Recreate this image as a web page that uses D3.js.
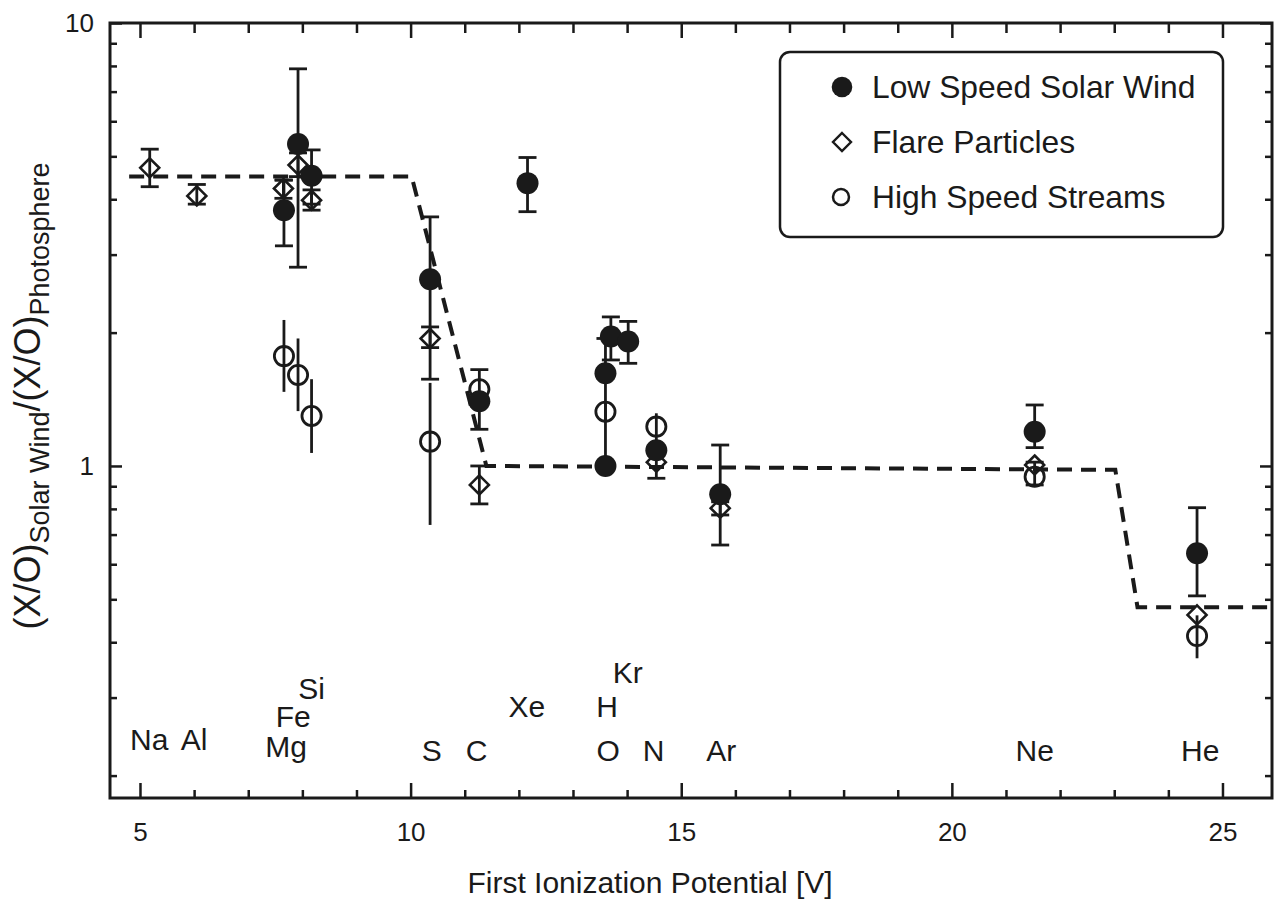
<!DOCTYPE html>
<html>
<head>
<meta charset="utf-8">
<script src="https://cdn.jsdelivr.net/npm/d3@7"></script>
<style>
  body { margin: 0; background: #fff; }
  svg text { font-family: "Liberation Sans", Arial, Helvetica, sans-serif; fill: #1a1a1a; }
</style>
</head>
<body>
<svg id="chart" width="1275" height="902"></svg>
<script>
// ---- Abundance ratios (X/O)_SW / (X/O)_photosphere versus first ionization potential [V] ----

// Low speed solar wind (filled circles)
const lowSpeedFip   = [7.66, 7.92, 8.17, 10.36, 11.27, 12.16, 13.60, 13.60, 13.70, 14.02, 14.54, 15.72, 21.53, 24.53];
const lowSpeedRatio = [3.78, 5.33, 4.52, 2.64, 1.40, 4.35, 1.62, 1.00, 1.96, 1.91, 1.085, 0.863, 1.195, 0.635];
const lowSpeedLow   = [3.14, 2.81, 3.90, 1.57, 1.21, 3.75, 1.00, null, 1.735, 1.705, null, 0.663, 1.10, 0.509];
const lowSpeedHigh  = [4.42, 7.88, 5.17, 3.65, 1.65, 4.97, 1.94, null, 2.17, 2.12, null, 1.115, 1.373, 0.805];

// Flare particles (open diamonds)
const flareFip   = [5.18, 6.05, 7.65, 7.92, 8.17, 10.36, 11.27, 14.54, 15.72, 21.53, 24.53];
const flareRatio = [4.71, 4.07, 4.23, 4.78, 3.98, 1.94, 0.906, 1.02, 0.803, 1.005, 0.461];
const flareLow   = [4.27, 3.90, 4.02, 4.50, 3.78, 1.85, 0.821, 0.938, 0.775, 0.906, null];
const flareHigh  = [5.19, 4.32, 4.42, 5.09, 4.20, 2.06, 1.00, 1.10, 0.83, 1.02, null];

// High speed streams (open circles)
const highSpeedFip   = [7.66, 7.92, 8.17, 10.36, 11.27, 13.60, 14.54, 21.53, 24.53];
const highSpeedRatio = [1.77, 1.605, 1.297, 1.135, 1.49, 1.326, 1.227, 0.946, 0.413];
const highSpeedLow   = [1.47, 1.33, 1.07, 0.736, null, 1.265, 1.12, null, 0.368];
const highSpeedHigh  = [2.136, 1.94, 1.57, 1.54, null, 1.40, 1.315, null, 0.46];

// Step model of the FIP effect (dashed)
const modelFip   = [4.8, 10.02, 11.4, 23.02, 23.43, 25.9];
const modelRatio = [4.5, 4.5, 1.0, 0.98, 0.48, 0.48];

// Element names placed at their FIP
const elementNames = ["Na", "Al", "Mg", "Fe", "Si", "S", "C", "Xe", "H", "Kr", "O", "N", "Ar", "Ne", "He"];
const elementFip   = [5.17, 6.0, 7.7, 7.83, 8.17, 10.39, 11.22, 12.15, 13.63, 14.01, 13.65, 14.49, 15.74, 21.53, 24.59];
const elementLevel = [0.2286, 0.2286, 0.2204, 0.2575, 0.2979, 0.2158, 0.2158, 0.2713, 0.2713, 0.3237, 0.2158, 0.2158, 0.2158, 0.2158, 0.2158];

// Axis ticks
const xMajorTicks = [5, 10, 15, 20, 25];
const xMinorTicks = d3.range(6, 25).filter(v => v % 5 !== 0);
const yMajorTicks = [1, 10];
const yMinorTicks = [0.2, 0.3, 0.4, 0.5, 0.6, 0.7, 0.8, 0.9, 2, 3, 4, 5, 6, 7, 8, 9];
const yTickLabels = ["1", "10"];

const legendLabels = ["Low Speed Solar Wind", "Flare Particles", "High Speed Streams"];
const xTitle = "First Ionization Potential [V]";

// ---- Layout ----
const plot = { left: 110, right: 1272, top: 23, bottom: 798 };
const ink = "#1a1a1a";
const font = "'Liberation Sans', Arial, Helvetica, sans-serif";

const svg = d3.select("#chart");

const x = d3.scaleLinear().domain([4.446, 25.915]).range([plot.left, plot.right]);
const y = d3.scaleLog().domain([0.178, 10]).range([plot.bottom, plot.top]);

svg.append("defs").append("clipPath").attr("id", "plotClip")
  .append("rect")
  .attr("x", plot.left).attr("y", plot.top)
  .attr("width", plot.right - plot.left).attr("height", plot.bottom - plot.top);

// ---- Axes (ticks on all four sides, pointing inward) ----
function styleAxis(g, fontSize) {
  g.select(".domain").remove();
  g.selectAll(".tick line").attr("stroke", ink).attr("stroke-width", 2.5);
  g.selectAll(".tick text").attr("fill", ink).attr("font-family", font).attr("font-size", fontSize);
}

svg.append("g").attr("transform", `translate(0,${plot.bottom})`)
  .call(d3.axisBottom(x).tickValues(xMajorTicks).tickSize(-15).tickPadding(25).tickFormat(d3.format("d")))
  .call(g => styleAxis(g, 26));
svg.append("g").attr("transform", `translate(0,${plot.bottom})`)
  .call(d3.axisBottom(x).tickValues(xMinorTicks).tickSize(-8).tickFormat(""))
  .call(g => styleAxis(g, 26));
svg.append("g").attr("transform", `translate(0,${plot.top})`)
  .call(d3.axisTop(x).tickValues(xMajorTicks).tickSize(-15).tickFormat(""))
  .call(g => styleAxis(g, 26));
svg.append("g").attr("transform", `translate(0,${plot.top})`)
  .call(d3.axisTop(x).tickValues(xMinorTicks).tickSize(-10).tickFormat(""))
  .call(g => styleAxis(g, 26));

svg.append("g").attr("transform", `translate(${plot.left},0)`)
  .call(d3.axisLeft(y).tickValues(yMajorTicks).tickSize(-12).tickPadding(16)
    .tickFormat((d, i) => yTickLabels[i]))
  .call(g => styleAxis(g, 26));
svg.append("g").attr("transform", `translate(${plot.left},0)`)
  .call(d3.axisLeft(y).tickValues(yMinorTicks).tickSize(-7).tickFormat(""))
  .call(g => styleAxis(g, 26));
svg.append("g").attr("transform", `translate(${plot.right},0)`)
  .call(d3.axisRight(y).tickValues(yMajorTicks).tickSize(-12).tickFormat(""))
  .call(g => styleAxis(g, 26));
svg.append("g").attr("transform", `translate(${plot.right},0)`)
  .call(d3.axisRight(y).tickValues(yMinorTicks).tickSize(-7).tickFormat(""))
  .call(g => styleAxis(g, 26));

// Plot frame
svg.append("rect")
  .attr("x", plot.left).attr("y", plot.top)
  .attr("width", plot.right - plot.left).attr("height", plot.bottom - plot.top)
  .attr("fill", "none").attr("stroke", ink).attr("stroke-width", 3);

// ---- Model curve ----
const modelPts = modelFip.map((f, i) => [f, modelRatio[i]]);
svg.append("path")
  .datum(modelPts)
  .attr("clip-path", "url(#plotClip)")
  .attr("d", d3.line().x(d => x(d[0])).y(d => y(d[1])))
  .attr("fill", "none").attr("stroke", ink).attr("stroke-width", 4)
  .attr("stroke-dasharray", "15 9");

// ---- Series ----
function rows(fip, ratio, low, high) {
  return fip.map((f, i) => ({ fip: f, ratio: ratio[i], low: low[i], high: high[i] }));
}
const lowSpeed = rows(lowSpeedFip, lowSpeedRatio, lowSpeedLow, lowSpeedHigh);
const flare = rows(flareFip, flareRatio, flareLow, flareHigh);
const highSpeed = rows(highSpeedFip, highSpeedRatio, highSpeedLow, highSpeedHigh);

function errorBars(data, withCaps) {
  const g = svg.append("g").attr("stroke", ink).attr("stroke-width", 2.8);
  const withErr = data.filter(d => d.low != null && d.high != null);
  g.selectAll("line.bar").data(withErr).join("line")
    .attr("x1", d => x(d.fip)).attr("x2", d => x(d.fip))
    .attr("y1", d => y(d.low)).attr("y2", d => y(d.high));
  if (withCaps) {
    const capEnds = withErr.flatMap(d => [{ fip: d.fip, v: d.low }, { fip: d.fip, v: d.high }]);
    g.selectAll("line.cap").data(capEnds).join("line")
      .attr("x1", d => x(d.fip) - 9).attr("x2", d => x(d.fip) + 9)
      .attr("y1", d => y(d.v)).attr("y2", d => y(d.v));
  }
}

errorBars(highSpeed, false);
errorBars(flare, true);
errorBars(lowSpeed, true);

const diamond = (h) => `M0,${-h}L${h},0L0,${h}L${-h},0Z`;

svg.append("g").selectAll("path").data(flare).join("path")
  .attr("transform", d => `translate(${x(d.fip)},${y(d.ratio)})`)
  .attr("d", diamond(9.5))
  .attr("fill", "none").attr("stroke", ink).attr("stroke-width", 2.6);

svg.append("g").selectAll("circle").data(highSpeed).join("circle")
  .attr("cx", d => x(d.fip)).attr("cy", d => y(d.ratio)).attr("r", 9.6)
  .attr("fill", "none").attr("stroke", ink).attr("stroke-width", 2.8);

svg.append("g").selectAll("circle").data(lowSpeed).join("circle")
  .attr("cx", d => x(d.fip)).attr("cy", d => y(d.ratio)).attr("r", 11)
  .attr("fill", ink);

// ---- Element labels ----
svg.append("g").selectAll("text").data(elementNames).join("text")
  .attr("x", (d, i) => x(elementFip[i]))
  .attr("y", (d, i) => y(elementLevel[i]))
  .attr("text-anchor", "middle")
  .attr("font-size", 30)
  .text(d => d);

// ---- Axis titles ----
svg.append("text")
  .attr("x", 650)
  .attr("y", 893)
  .attr("text-anchor", "middle")
  .attr("font-size", 30)
  .text(xTitle);

const yTitle = svg.append("text")
  .attr("transform", "translate(40,396) rotate(-90)")
  .attr("text-anchor", "middle")
  .attr("font-size", 36);
yTitle.append("tspan").text("(X/O)");
yTitle.append("tspan").attr("font-size", 27).attr("dy", 9).text("Solar Wind");
yTitle.append("tspan").attr("font-size", 36).attr("dy", -9).text("/(X/O)");
yTitle.append("tspan").attr("font-size", 27).attr("dy", 9).text("Photosphere");

// ---- Legend ----
const legend = svg.append("g");
legend.append("rect")
  .attr("x", 780).attr("y", 52).attr("width", 443).attr("height", 185).attr("rx", 10)
  .attr("fill", "#fff").attr("stroke", ink).attr("stroke-width", 2.5);
const rowY = [87, 142, 197];
legend.append("circle").attr("cx", 842).attr("cy", rowY[0]).attr("r", 10.3).attr("fill", ink);
legend.append("path").attr("transform", `translate(842,${rowY[1]})`).attr("d", diamond(9))
  .attr("fill", "none").attr("stroke", ink).attr("stroke-width", 2.4);
legend.append("circle").attr("cx", 841).attr("cy", rowY[2]).attr("r", 8)
  .attr("fill", "none").attr("stroke", ink).attr("stroke-width", 2.5);
legend.selectAll("text").data(legendLabels).join("text")
  .attr("x", 872).attr("y", (d, i) => rowY[i] + 11)
  .attr("font-size", 31.8)
  .text(d => d);
</script>
</body>
</html>
